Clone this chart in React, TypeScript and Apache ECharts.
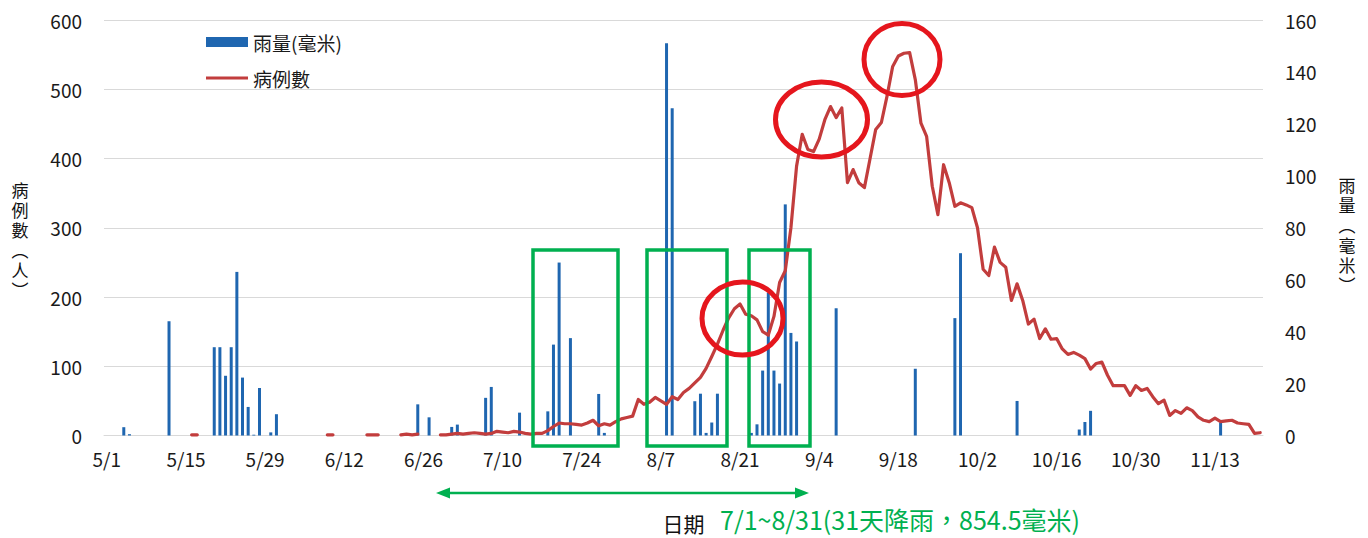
import React, { useEffect, useRef } from 'react';
import * as echarts from 'echarts';

// ---- categories: every day from 5/1 to 11/21 ----
const MONTHS = [5, 6, 7, 8, 9, 10, 11];
const MONTH_DAYS = [31, 30, 31, 31, 30, 31, 30];
const DAY_COUNT = 205;
const categories: string[] = (() => {
  const out: string[] = [];
  for (let m = 0; m < MONTHS.length; m++) {
    for (let d = 1; d <= MONTH_DAYS[m]; d++) {
      if (out.length < DAY_COUNT) out.push(`${MONTHS[m]}/${d}`);
    }
  }
  return out;
})();

// ---- rainfall (mm), right axis ----
const rainDates = [
  '5/4', '5/5', '5/12', '5/20', '5/21', '5/22', '5/23', '5/24', '5/25', '5/26', '5/27', '5/28', '5/30', '5/31',
  '6/25', '6/27', '7/1', '7/2', '7/7', '7/8', '7/13', '7/18', '7/19', '7/20', '7/22', '7/27', '7/28',
  '8/8', '8/9', '8/13', '8/14', '8/15', '8/16', '8/17', '8/23', '8/24', '8/25', '8/26', '8/27', '8/28', '8/29', '8/30', '8/31',
  '9/7', '9/21', '9/28', '9/29', '10/9', '10/20', '10/21', '10/22', '11/14',
];
const rainMm = [
  3.2, 0.5, 44, 34, 34, 23, 34, 63, 22.3, 11, 0.3, 18.3, 1.2, 8.2,
  12, 7, 3.3, 4.2, 14.5, 18.7, 8.8, 9.3, 35, 66.6, 37.5, 16, 1,
  151, 126, 13.2, 16.1, 1, 5, 16.1, 1, 4.3, 25, 55, 25, 20, 89, 39.5, 36.2,
  49, 25.7, 45.2, 70.2, 13.3, 2.3, 5.2, 9.5, 5,
];

// ---- daily cases, left axis (one value per category, null = no data) ----
const caseCounts: (number | null)[] = [
  null, null, null, null, null, null, null, null, null, null,
  null, null, null, null, null, 1, 1, null, null, null,
  null, null, null, null, null, null, null, null, null, null,
  null, null, null, null, null, null, null, null, null, 1,
  1, null, null, null, null, null, 1, 1, 1, null,
  null, null, 1, 2, 1, 2, null, null, null, 1,
  1, 2, 3, 2, 3, 4, 3, 2, 3, 6,
  5, 4, 6, 5, 3, 2, 3, 3, 7, 13,
  18, 17, 17, 16, 15, 18, 22, 14, 17, 15,
  20, 24, 26, 28, 52, 45, 48, 55, 50, 45,
  56, 52, 62, 68, 76, 84, 97, 114, 132, 152,
  170, 183, 190, 175, 173, 167, 150, 145, 172, 221,
  238, 300, 389, 435, 413, 410, 428, 456, 475, 459,
  473, 365, 384, 365, 358, 400, 442, 452, 490, 533,
  548, 552, 553, 514, 451, 432, 360, 319, 391, 365,
  331, 336, 333, 329, 300, 240, 231, 272, 250, 243,
  195, 219, 195, 161, 168, 140, 154, 139, 140, 125,
  117, 120, 116, 111, 96, 104, 106, 87, 72, 72,
  72, 58, 72, 65, 68, 56, 46, 51, 29, 36,
  32, 40, 36, 27, 22, 20, 25, 20, 21, 22,
  18, 17, 16, 3, 4,
];

const leftTicks = { min: 0, max: 600, interval: 100 };
const rightTicks = { min: 0, max: 160, interval: 20 };
const leftAxisName = ['病', '例', '數', '︵', '人', '︶'];
const rightAxisName = ['雨', '量', '︵', '毫', '米', '︶'];

const FONT = "'Noto Sans CJK TC', 'Noto Sans', sans-serif";
const GREEN = '#00b050';
const RED = '#e5161d';
const LINE_RED = '#c23d3d';
const BAR_BLUE = '#1f66b0';

export default function App() {
  const ref = useRef<HTMLDivElement>(null);

  useEffect(() => {
    document.body.style.margin = '0';
    if (!ref.current) return;
    const chart = echarts.init(ref.current, undefined, { renderer: 'svg' });

    const rainMap: Record<string, number> = {};
    rainDates.forEach((d, i) => (rainMap[d] = rainMm[i]));
    const rainData = categories.map((d) => (d in rainMap ? rainMap[d] : null));

    const greenRects = [
      [533, 250, 85, 196],
      [647, 250, 80, 196],
      [749, 250, 61, 196],
    ];
    const redEllipses = [
      [742.5, 318.5, 40.5, 36.5],
      [821.5, 119.5, 46, 37.5],
      [902, 59.5, 38, 36],
    ];

    const verticalName = (chars: string[], x: number, cy: number) => ({
      type: 'text',
      z: 50,
      x,
      y: cy,
      style: {
        text: chars.join('\n'),
        fill: '#111',
        fontSize: 17,
        lineHeight: 20,
        fontFamily: FONT,
        align: 'center',
        verticalAlign: 'middle',
      },
    });

    chart.setOption({
      animation: false,
      textStyle: { fontFamily: FONT },
      grid: { left: 104, right: 105, top: 20, bottom: 100 },
      legend: {
        orient: 'vertical',
        left: 201,
        top: 27,
        itemWidth: 42,
        itemHeight: 10,
        itemGap: 16,
        textStyle: { fontSize: 19, color: '#1a1a1a', lineHeight: 20, fontFamily: FONT },
        data: [
          { name: '雨量(毫米)', icon: 'rect' },
          { name: '病例數', icon: 'path://M0,0L42,0L42,3L0,3Z' },
        ],
      },
      xAxis: {
        type: 'category',
        data: categories,
        boundaryGap: true,
        name: '日期',
        nameLocation: 'middle',
        nameGap: 87,
        nameTextStyle: { fontSize: 21, color: '#111', verticalAlign: 'middle', fontFamily: FONT },
        axisLine: { lineStyle: { color: '#d9d9d9' } },
        axisTick: { interval: 13, length: 7, lineStyle: { color: '#d9d9d9' } },
        axisLabel: { interval: 13, margin: 13, fontSize: 19, color: '#1a1a1a' },
      },
      yAxis: [
        {
          type: 'value',
          ...leftTicks,
          axisLine: { show: false },
          axisTick: { show: false },
          axisLabel: { margin: 22, fontSize: 19, color: '#1a1a1a' },
          splitLine: { lineStyle: { color: '#d9d9d9' } },
        },
        {
          type: 'value',
          ...rightTicks,
          axisLine: { show: false },
          axisTick: { show: false },
          axisLabel: { margin: 22, fontSize: 19, color: '#1a1a1a' },
          splitLine: { show: false },
        },
      ],
      series: [
        {
          name: '雨量(毫米)',
          type: 'bar',
          yAxisIndex: 1,
          data: rainData,
          barWidth: 3,
          itemStyle: { color: BAR_BLUE },
          z: 2,
        },
        {
          name: '病例數',
          type: 'line',
          yAxisIndex: 0,
          data: caseCounts,
          symbol: 'none',
          showSymbol: false,
          connectNulls: false,
          lineStyle: { color: LINE_RED, width: 3.2, cap: 'round', join: 'round' },
          itemStyle: { color: LINE_RED },
          z: 3,
        },
      ],
      graphic: [
        verticalName(leftAxisName, 20, 239),
        verticalName(rightAxisName, 1347, 234),
        ...greenRects.map(([x, y, w, h]) => ({
          type: 'rect',
          z: 100,
          shape: { x, y, width: w, height: h },
          style: { fill: 'none', stroke: GREEN, lineWidth: 3.5 },
        })),
        ...redEllipses.map(([cx, cy, rx, ry]) => ({
          type: 'ellipse',
          z: 101,
          shape: { cx, cy, rx, ry },
          style: { fill: 'none', stroke: RED, lineWidth: 5 },
        })),
        {
          type: 'line',
          z: 100,
          shape: { x1: 445, y1: 493, x2: 800, y2: 493 },
          style: { stroke: GREEN, lineWidth: 2.5 },
        },
        {
          type: 'polygon',
          z: 100,
          shape: { points: [[436, 493], [450, 487.5], [450, 498.5]] },
          style: { fill: GREEN },
        },
        {
          type: 'polygon',
          z: 100,
          shape: { points: [[809, 493], [795, 487.5], [795, 498.5]] },
          style: { fill: GREEN },
        },
        {
          type: 'text',
          z: 100,
          x: 720,
          y: 519,
          style: {
            text: '7/1~8/31(31天降雨，854.5毫米)',
            fill: GREEN,
            fontSize: 25,
            fontFamily: FONT,
            verticalAlign: 'middle',
            align: 'left',
          },
        },
      ],
    });

    return () => chart.dispose();
  }, []);

  return <div ref={ref} style={{ width: 1368, height: 538 }} />;
}
